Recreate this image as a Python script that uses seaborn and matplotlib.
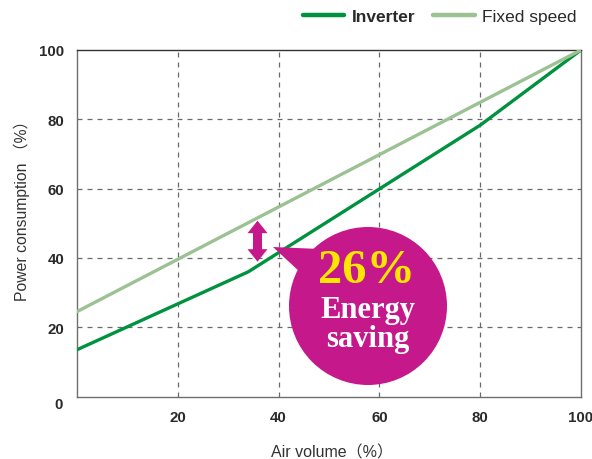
import numpy as np
import pandas as pd
import matplotlib
matplotlib.use("Agg")
import matplotlib.pyplot as plt
from matplotlib.patches import Ellipse, Polygon
from matplotlib.lines import Line2D
import seaborn as sns

# ---- data ----
inverter_x = [0, 34, 80, 100]
inverter_y = [13.5, 36.0, 78.3, 100]
fixed_x = [0, 100]
fixed_y = [24.5, 100]
x_ticks = [20, 40, 60, 80, 100]
y_ticks = [20, 40, 60, 80, 100]
series_names = ["Inverter", "Fixed speed"]
saving_pct = "26%"

sns.set_style("white")
plt.rcParams['font.family'] = ['Liberation Sans', 'Noto Sans CJK JP', 'DejaVu Sans']

green = "#00923f"
light_green = "#9cc193"
magenta = "#c5198b"
tick_col = "#2a2a2a"

df = pd.concat([
    pd.DataFrame({"x": inverter_x, "y": inverter_y, "s": series_names[0]}),
    pd.DataFrame({"x": fixed_x, "y": fixed_y, "s": series_names[1]}),
])

fig = plt.figure(figsize=(5.92, 4.60), dpi=100)
ax = fig.add_axes([77/592, 1-397.5/460, (581-77)/592, (397.5-51)/460])

sns.lineplot(data=df, x="x", y="y", hue="s", palette={series_names[0]: green, series_names[1]: light_green},
             linewidth=2.4, ax=ax, legend=False, zorder=3, sort=False)

ax.set_xlim(0, 100)
ax.set_ylim(0, 100)
ax.set_xticks(x_ticks)
ax.set_yticks(y_ticks)
ax.set_xticklabels([str(v) for v in x_ticks], fontsize=10.8, fontweight='bold', color=tick_col)
ax.set_yticklabels([str(v) for v in y_ticks], fontsize=10.8, fontweight='bold', color=tick_col)
ax.tick_params(axis='x', length=0, pad=10)
ax.tick_params(axis='y', length=0, pad=9)
ax.text(-2.8, -2.3, "0", transform=ax.transData, ha='right', va='center',
        fontsize=10.8, fontweight='bold', color=tick_col)

for v in [20, 40, 60, 80]:
    ax.axvline(v, color="#6a6a6a", lw=0.9, ls=(0, (4, 4)), zorder=1)
    ax.axhline(v, color="#6a6a6a", lw=0.9, ls=(0, (4, 4)), zorder=1)

for side in ['left', 'right', 'bottom']:
    ax.spines[side].set_color("#6e6e6e")
    ax.spines[side].set_linewidth(1.0)
ax.spines['top'].set_color("#333333")
ax.spines['top'].set_linewidth(1.0)

ax.set_xlabel("Air volume（%）", fontsize=11.5, color="#333333")
ax.set_ylabel("Power consumption （%）", fontsize=11.3, color="#333333")
ax.xaxis.set_label_coords((332-77)/504, (397.5-453)/346.5)
ax.xaxis.label.set_va('center')
ax.yaxis.set_label_coords((22-77)/504, (397.5-207)/346.5)
ax.yaxis.label.set_va('center')

def px2data(px, py):
    return ((px - 77) / 5.04, (397.5 - py) / 3.465)

# double arrow (polygon built from pixel geometry)
ax_c = 257.5
top, bot = 221.7, 262.7
hw, hl, sw = 10.0, 12.5, 4.5
arrow_pts = [(ax_c, top), (ax_c + hw, top + hl), (ax_c + sw, top + hl), (ax_c + sw, bot - hl),
             (ax_c + hw, bot - hl), (ax_c, bot), (ax_c - hw, bot - hl), (ax_c - sw, bot - hl),
             (ax_c - sw, top + hl), (ax_c - hw, top + hl)]
ax.add_patch(Polygon([px2data(*p) for p in arrow_pts], closed=True, color=magenta, lw=0, zorder=5))

cx, cy = px2data(368, 307)
ell = Ellipse((cx, cy), width=2*79/5.04, height=2*79/3.465, color=magenta, zorder=6, lw=0)
ax.add_patch(ell)
tail = Polygon([px2data(273, 248), px2data(320, 250), px2data(301, 274)], closed=True,
               color=magenta, zorder=6, lw=0)
ax.add_patch(tail)

tx, ty = px2data(367, 271)
ax.text(tx, ty, saving_pct, ha='center', va='center', fontsize=35, fontweight='bold',
        family=['Liberation Serif'], color="#ffe600", zorder=7)
tx2, ty2 = px2data(368, 311)
ax.text(tx2, ty2, "Energy", ha='center', va='center', fontsize=22, fontweight='bold',
        family=['Liberation Serif'], color="white", zorder=7)
tx3, ty3 = px2data(368, 340)
ax.text(tx3, ty3, "saving", ha='center', va='center', fontsize=22, fontweight='bold',
        family=['Liberation Serif'], color="white", zorder=7)

# legend
handles = [Line2D([], [], color=green, lw=3.2), Line2D([], [], color=light_green, lw=3.2)]
leg = fig.legend(handles, series_names, loc='center right', bbox_to_anchor=(577/592, 1-17/460),
                 ncol=2, frameon=False, fontsize=12.5, handlelength=2.4, handletextpad=0.45,
                 columnspacing=1.0, borderpad=0, borderaxespad=0)
texts = leg.get_texts()
texts[0].set_fontweight('bold')
for t in texts:
    t.set_color("#2a2a2a")

fig.savefig("out.png", dpi=100)
